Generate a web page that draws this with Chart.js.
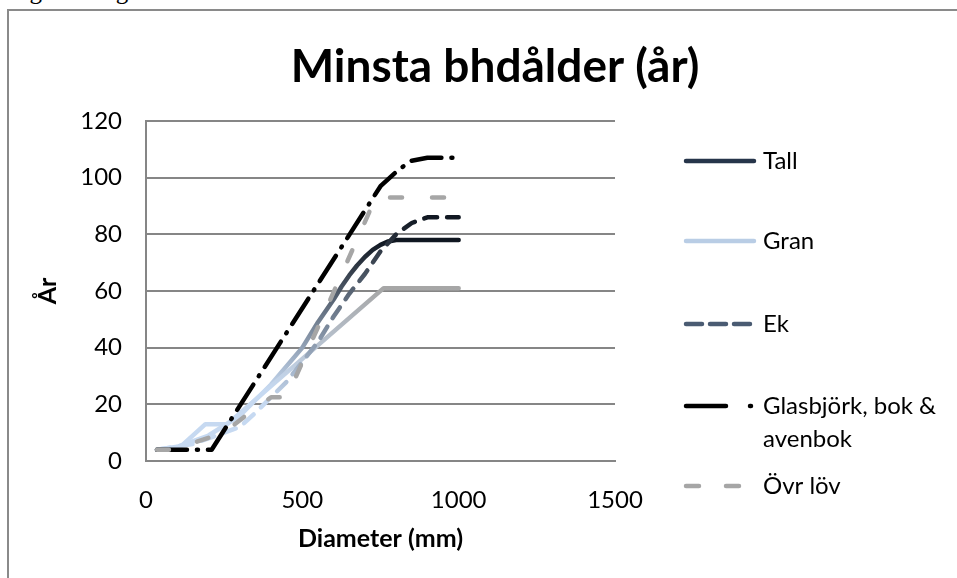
<!DOCTYPE html>
<html>
<head>
<meta charset="utf-8">
<script src="https://cdn.jsdelivr.net/npm/chart.js@4"></script>
<style>
  body { margin: 0; background: #fff; overflow: hidden; }
  #wrap { position: relative; width: 957px; height: 578px; overflow: hidden; }
  #frame { position: absolute; left: 7px; top: 9px; width: 960px; height: 580px;
           border-left: 2px solid #8a8a8a; border-top: 2px solid #8a8a8a; }
  #above { position: absolute; left: 6px; top: -23px; font: 25px "Liberation Serif", serif; color: #000; white-space: nowrap; }
  canvas { position: absolute; left: 0; top: 0; }
</style>
</head>
<body>
<div id="wrap">
  <div id="above">begränsningsfunktion.</div>
  <div id="frame"></div>
  <canvas id="chart" width="957" height="578"></canvas>
</div>
<script>
// diameter (mm) and minimum age (år) per tree species
const tallD = [35, 100, 200, 300, 400, 500, 550, 600, 625, 650, 675, 700, 725, 750, 775, 800, 1000];
const tallAge = [4, 5, 9, 16, 27, 40, 49, 57, 61.5, 65.5, 69, 72, 74.5, 76.3, 77.5, 78, 78];

const granD = [35, 100, 190, 260, 760, 1000];
const granAge = [4, 4, 13, 13, 61, 61];

const ekD = [35, 150, 300, 350, 450, 500, 550, 600, 650, 700, 750, 800, 850, 900, 1000];
const ekAge = [4, 6, 12, 17, 28, 35, 42, 51, 59, 66, 74, 80, 84, 86, 86];

const glasD = [35, 210, 750, 780, 810, 850, 900, 1000];
const glasAge = [4, 4, 97, 100, 103, 106, 107, 107];

const ovrD = [35, 110, 140, 250, 330, 400, 450, 735, 1000];
const ovrAge = [4, 4, 6, 10, 17, 22.5, 22.5, 93, 93];

const names = ['Tall', 'Gran', 'Ek', ['Glasbjörk, bok &', 'avenbok'], 'Övr löv'];
const xTicks = [0, 500, 1000, 1500];
const yTicks = [0, 20, 40, 60, 80, 100, 120];

const FONT = 'Lato, "Open Sans", sans-serif';

function pts(xs, ys) {
  return xs.map((x, i) => ({ x: x, y: ys[i] }));
}

// vertical colour fade like the excel line gradients
function fade(lowVal, lowCol, highVal, highCol) {
  return function (ctx) {
    const chart = ctx.chart;
    if (!chart.chartArea) return highCol;
    const y = chart.scales.y;
    const g = chart.ctx.createLinearGradient(0, y.getPixelForValue(lowVal), 0, y.getPixelForValue(highVal));
    g.addColorStop(0, lowCol);
    g.addColorStop(1, highCol);
    return g;
  };
}

const legendCols = ['#26354a', '#b9cde5', '#4a5b72', '#000000', '#a6a6a6'];
const legendY = [161, 241, 324, 406, 486];

// title centred over the whole frame and legend on the right, drawn by hand
const sideLegend = {
  id: 'sideLegend',
  afterDraw(chart) {
    const c = chart.ctx;
    c.save();
    c.fillStyle = '#000';
    c.font = 'bold 46px ' + FONT;
    c.textAlign = 'center';
    c.textBaseline = 'middle';
    c.fillText('Minsta bhdålder (år)', 495, 67);
    c.restore();

    chart.data.datasets.forEach((ds, i) => {
      const y = legendY[i];
      c.save();
      c.strokeStyle = legendCols[i];
      c.lineWidth = ds.borderWidth;
      c.lineCap = 'round';
      c.setLineDash(ds.legendDash || []);
      c.beginPath();
      c.moveTo(686, y);
      c.lineTo(754, y);
      c.stroke();
      c.restore();
      c.save();
      c.fillStyle = '#000';
      c.font = '24px ' + FONT;
      c.textBaseline = 'middle';
      const lines = Array.isArray(names[i]) ? names[i] : [names[i]];
      lines.forEach((t, k) => c.fillText(t, 763, y + k * 33));
      c.restore();
    });
  }
};

new Chart(document.getElementById('chart'), {
  type: 'scatter',
  data: {
    datasets: [
      { label: 'Tall', data: pts(tallD, tallAge), borderColor: fade(25, '#c6d9f1', 78, '#0f1620'),
        order: 4 },
      { label: 'Gran', data: pts(granD, granAge), borderColor: fade(25, '#c6d9f1', 61, '#a6a6a6'),
        order: 3 },
      { label: 'Ek', data: pts(ekD, ekAge), borderColor: fade(20, '#c6d9f1', 86, '#111822'),
        borderDash: [13, 10], legendDash: [16, 8], order: 2 },
      { label: 'Glasbjörk, bok & avenbok', data: pts(glasD, glasAge), borderColor: '#000',
        borderDash: [30, 10, 1, 10], legendDash: [40, 24, 1, 20], order: 1 },
      { label: 'Övr löv', data: pts(ovrD, ovrAge), borderColor: '#a6a6a6',
        borderDash: [12, 30], legendDash: [13, 27], order: 0 }
    ].map(d => Object.assign(d, {
      showLine: true, borderWidth: 4.5, pointRadius: 0, tension: 0,
      borderCapStyle: 'round', borderJoinStyle: 'round', fill: false
    }))
  },
  options: {
    responsive: false,
    animation: false,
    events: [],
    layout: { padding: { left: 30, right: 342, top: 121, bottom: 0 } },
    plugins: {
      legend: { display: false },
      tooltip: { enabled: false },
      title: { display: false }
    },
    scales: {
      x: {
        type: 'linear',
        min: 0, max: 1500,
        afterFit(s) { s.height = 117; },
        afterBuildTicks(s) { s.ticks = xTicks.map(v => ({ value: v })); },
        grid: { display: false, drawTicks: false },
        border: { display: true, color: '#868686', width: 2 },
        ticks: { color: '#000', padding: 25, font: { family: FONT, size: 24 },
                 callback: v => String(v) },
        title: { display: true, text: 'Diameter (mm)', color: '#000',
                 font: { family: FONT, size: 25, weight: 'bold' }, padding: { top: 0, bottom: 24 } }
      },
      y: {
        min: 0, max: 120,
        afterFit(s) { s.width = 116; },
        afterBuildTicks(s) { s.ticks = yTicks.map(v => ({ value: v })); },
        grid: { color: '#868686', lineWidth: 2, drawTicks: false },
        border: { display: true, color: '#868686', width: 2 },
        ticks: { color: '#000', padding: 24, font: { family: FONT, size: 24 },
                 callback: v => String(v) },
        title: { display: true, text: 'År', color: '#000',
                 font: { family: FONT, size: 25, weight: 'bold' }, padding: { top: 3, bottom: 0 } }
      }
    }
  },
  plugins: [sideLegend]
});
</script>
</body>
</html>
